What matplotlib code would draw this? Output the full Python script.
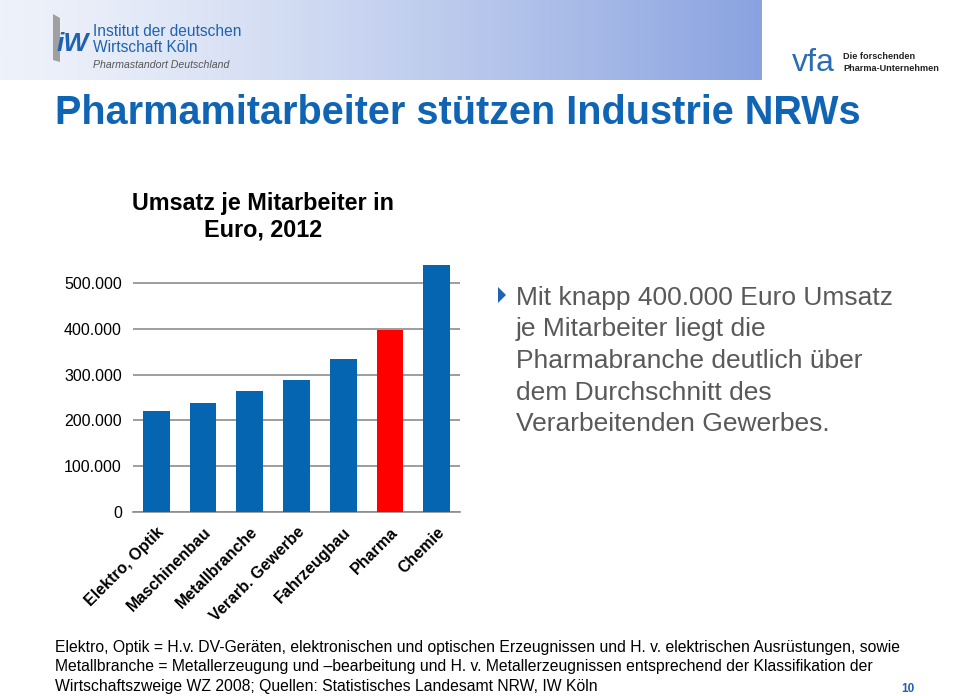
import numpy as np
import matplotlib
matplotlib.use("Agg")
import matplotlib.pyplot as plt
from matplotlib.patches import Rectangle, Polygon

plt.rcParams['font.family'] = ['Liberation Sans', 'DejaVu Sans']

# Umsatz je Mitarbeiter in Euro, 2012
branchen = ["Elektro, Optik", "Maschinenbau", "Metallbranche", "Verarb. Gewerbe",
            "Fahrzeugbau", "Pharma", "Chemie"]
umsatz = [221000, 239000, 264000, 288000, 333000, 398000, 539000]
farben = ["#0565b0"] * 5 + ["#ff0000", "#0565b0"]
y_ticks = [0, 100000, 200000, 300000, 400000, 500000]
y_labels = ["0", "100.000", "200.000", "300.000", "400.000", "500.000"]

W, H = 960, 696
fig = plt.figure(figsize=(W / 100, H / 100), dpi=100)
fig.patch.set_facecolor("white")


def px(x, y):
    return x / W, 1 - y / H


# header band with gradient
band = fig.add_axes([0, 1 - 80 / H, 762 / W, 80 / H])
grad = np.linspace(0, 1, 256).reshape(1, -1)
c0 = np.array([238, 242, 250]) / 255
c1 = np.array([138, 163, 224]) / 255
img = c0[None, None, :] + (c1 - c0)[None, None, :] * (grad[..., None] ** 1.3)
band.imshow(img, aspect="auto", extent=[0, 1, 0, 1])
band.set_axis_off()

# IW logo
fig.patches.append(Polygon([px(53, 14), px(60, 18), px(60, 62), px(53, 60)],
                           closed=True, transform=fig.transFigure,
                           facecolor="#a0a0a0", edgecolor="none"))
fig.text(*px(57, 51), "iW", fontsize=19, fontweight="bold", style="italic",
         color="#1f63b0", va="baseline", ha="left")
fig.text(*px(93, 36), "Institut der deutschen", fontsize=11.2, color="#1f63b0", va="baseline")
fig.text(*px(93, 52), "Wirtschaft Köln", fontsize=11.2, color="#1f63b0", va="baseline")
fig.text(*px(93, 68), "Pharmastandort Deutschland", fontsize=7.6, style="italic",
         color="#555555", va="baseline")

# vfa logo
fig.text(*px(792, 71), "vfa", fontsize=23, color="#2a6db5", va="baseline")
fig.text(*px(843, 59), "Die forschenden", fontsize=6.6, fontweight="bold",
         color="#222222", va="baseline")
fig.text(*px(843, 71), "Pharma-Unternehmen", fontsize=6.6, fontweight="bold",
         color="#222222", va="baseline")

# main title
fig.text(*px(55, 124), "Pharmamitarbeiter stützen Industrie NRWs", fontsize=28.5,
         fontweight="bold", color="#1064b4", va="baseline")

# chart title
fig.text(*px(263, 210), "Umsatz je Mitarbeiter in", fontsize=16.8, fontweight="bold",
         ha="center", va="baseline")
fig.text(*px(263, 236), "Euro, 2012", fontsize=16.8, fontweight="bold",
         ha="center", va="baseline")

# chart
ax = fig.add_axes([133 / W, 1 - 512 / H, 327 / W, 251.9 / H])
x = np.arange(len(branchen))
ax.bar(x, umsatz, width=0.57, color=farben, zorder=3)
ax.set_xlim(-0.5, len(branchen) - 0.5)
ax.set_ylim(0, 550000)
ax.set_yticks(y_ticks)
ax.set_yticklabels(y_labels, fontsize=11.5)
ax.yaxis.grid(True, color="#8c8c8c", linewidth=1.2, zorder=0)
ax.set_xticks(x)
ax.set_xticklabels(branchen, rotation=45, ha="right", va="top", rotation_mode="anchor",
                   fontsize=11.5, fontweight="bold")
ax.tick_params(axis="both", length=0)
ax.tick_params(axis="y", pad=8)
ax.tick_params(axis="x", pad=9)
for s in ["top", "right", "left"]:
    ax.spines[s].set_visible(False)
ax.spines["bottom"].set_color("#8c8c8c")
ax.spines["bottom"].set_linewidth(1.2)

# bullet text
fig.patches.append(Polygon([px(498, 287), px(506, 295), px(498, 303)], closed=True,
                           transform=fig.transFigure, facecolor="#1f64b0", edgecolor="none"))
zeilen = ["Mit knapp 400.000 Euro Umsatz", "je Mitarbeiter liegt die",
          "Pharmabranche deutlich über", "dem Durchschnitt des",
          "Verarbeitenden Gewerbes."]
for i, z in enumerate(zeilen):
    fig.text(*px(516, 305 + i * 31.5), z, fontsize=19, color="#595959", va="baseline")

# footnote
fuss = ["Elektro, Optik = H.v. DV-Geräten, elektronischen und optischen Erzeugnissen und H. v. elektrischen Ausrüstungen, sowie",
        "Metallbranche = Metallerzeugung und \u2013bearbeitung und H. v. Metallerzeugnissen entsprechend der Klassifikation der",
        "Wirtschaftszweige WZ 2008; Quellen: Statistisches Landesamt NRW, IW Köln"]
for i, z in enumerate(fuss):
    fig.text(*px(55, 652 + i * 19.5), z, fontsize=11.3, color="black", va="baseline")

fig.text(*px(901, 692), "10", fontsize=8.5, fontweight="bold", color="#1f63b0", va="baseline")

fig.savefig("out.png", dpi=100)
